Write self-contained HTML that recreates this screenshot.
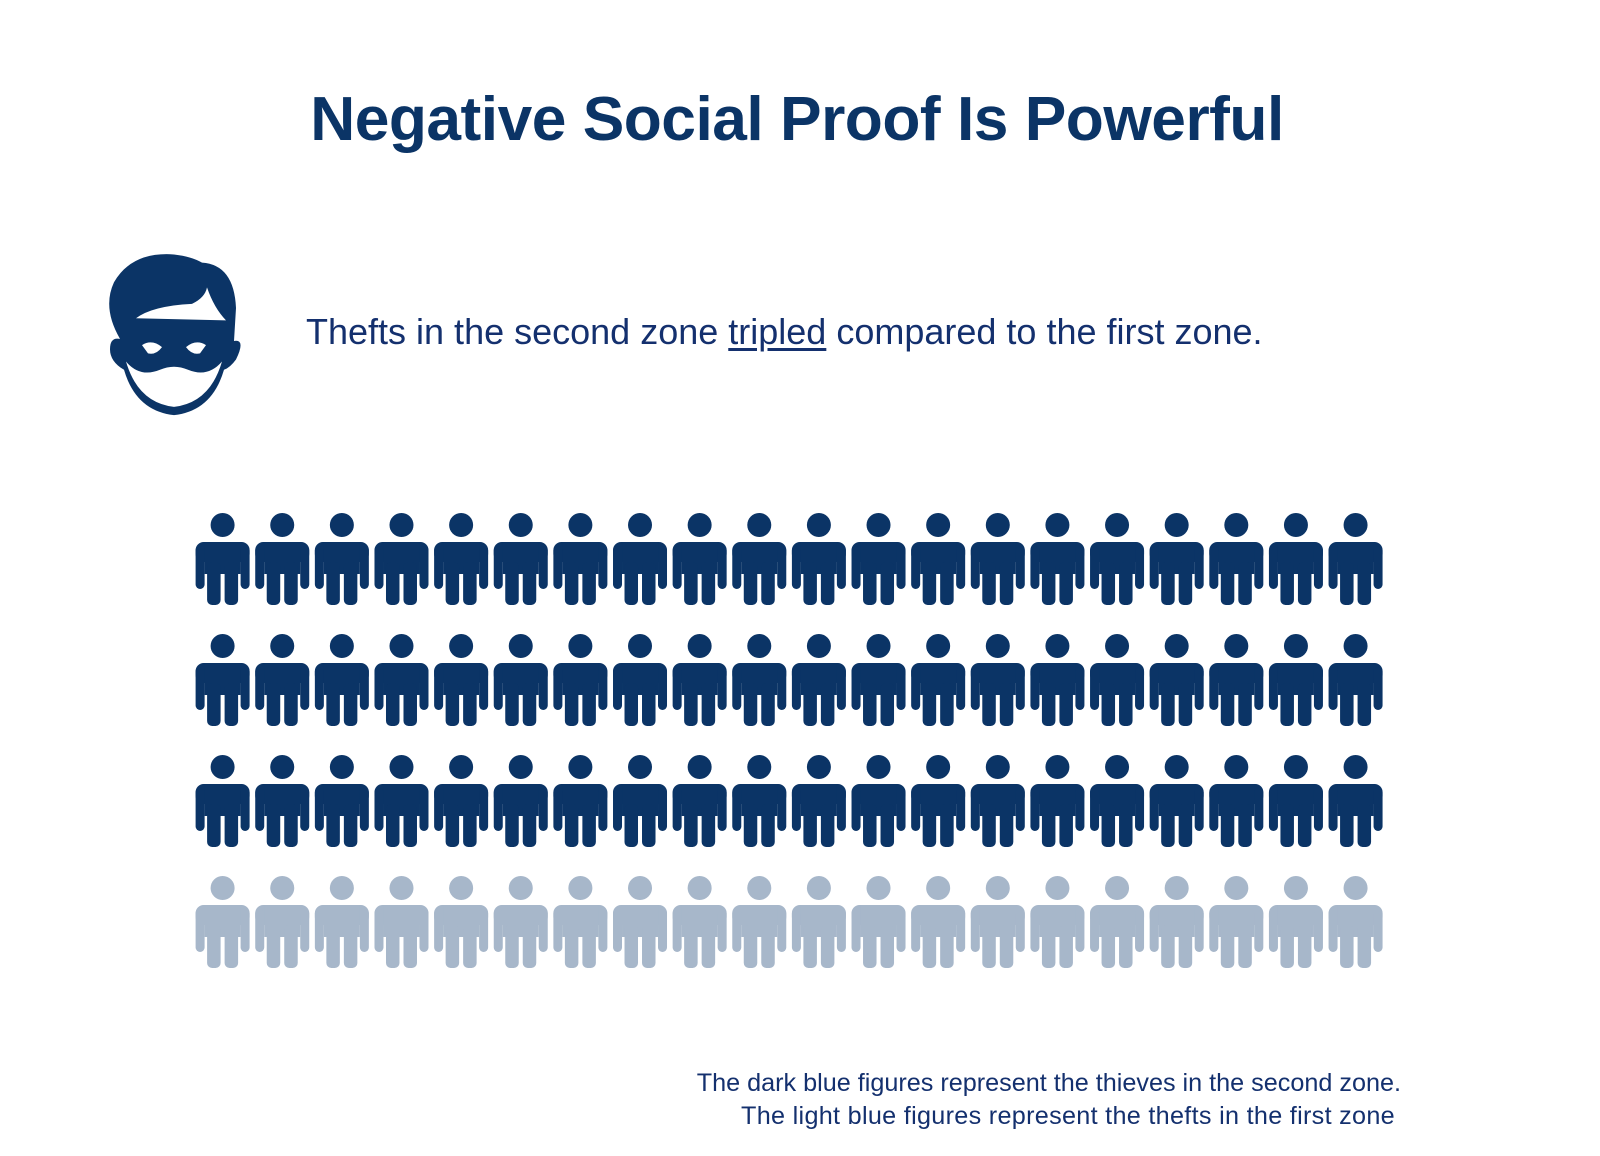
<!DOCTYPE html>
<html><head><meta charset="utf-8"><style>
body{margin:0;width:1600px;height:1156px;background:#fff;overflow:hidden;position:relative;font-family:"Liberation Sans",sans-serif;}
#title{position:absolute;left:0;width:1594px;top:84px;text-align:center;font-size:62.3px;font-weight:bold;color:#0b3466;letter-spacing:-0.5px;}
#sub{position:absolute;left:306px;top:311px;font-size:36px;color:#14306e;white-space:nowrap;}
#sub u{text-underline-offset:4px;}
.foot{position:absolute;right:199px;font-size:25.2px;color:#14306e;white-space:nowrap;text-align:right;}
</style></head><body>
<div id="title">Negative Social Proof Is Powerful</div>
<svg style="position:absolute;left:0;top:0" width="1600" height="1156">
<g transform="translate(2,-1) scale(1,1.03)">
<g fill="#0b3466">
<path d="M118 330 Q100 300 112 275 Q130 245 172 248 Q190 250 200 256 Q232 258 234 300 L232 332 Q244 330 234 350 Q228 358 222 360 Q210 400 172 404 Q134 400 122 360 Q108 352 108 340 Q108 328 118 330 Z"/>
</g>
<path d="M134 310 Q150 298 190 296 Q203 290 205 280 Q212 300 224 312 Z" fill="#fff"/>
<path d="M124 352 Q136 392 172 396 Q208 392 220 352 Q206 368 186 360 Q172 354 158 360 Q138 368 124 352 Z" fill="#fff"/>
<path d="M140 336 Q150 330 160 338 Q154 346 146 344 Z M204 336 Q194 330 184 338 Q190 346 198 344 Z" fill="#fff"/>
</g>
<g id="people"></g>
</svg>
<div id="sub">Thefts in the second zone <u>tripled</u> compared to the first zone.</div>
<div class="foot" style="top:1069px">The dark blue figures represent the thieves in the second zone.</div>
<div class="foot" style="top:1102px;right:205px;letter-spacing:0.3px">The light blue figures represent the thefts in the first zone</div>
<script>
const categories = ["second zone thieves", "first zone thefts"];
const values = [60, 20];
const colors = ["#0b3466", "#a7b7ca"];
const perRow = 20;
const ns = "http://www.w3.org/2000/svg";
const g = document.getElementById('people');
function xPos(i){return 222.6 + i*59.63;}
function yPos(r){return 525 + r*121;}
let idx = 0;
categories.forEach((c, ci) => {
  for (let k = 0; k < values[ci]; k++, idx++) {
    const cx = xPos(idx % perRow), cy = yPos(Math.floor(idx / perRow));
    const p = document.createElementNS(ns, 'g');
    
    
    p.setAttribute('fill', colors[ci]);
    p.innerHTML =
      `<circle cx="${cx}" cy="${cy}" r="12"/>` +
      `<rect x="${cx-27}" y="${cy+17}" width="54" height="20" rx="8"/>` +
      `<rect x="${cx-27}" y="${cy+21}" width="9" height="43" rx="4.5"/>` +
      `<rect x="${cx+18}" y="${cy+21}" width="9" height="43" rx="4.5"/>` +
      `<rect x="${cx-18}" y="${cy+17}" width="36" height="32"/>` +
      `<rect x="${cx-15.5}" y="${cy+37}" width="13.5" height="43" rx="5"/>` +
      `<rect x="${cx+2}" y="${cy+37}" width="13.5" height="43" rx="5"/>`;
    g.appendChild(p);
  }
});
</script>
</body></html>
